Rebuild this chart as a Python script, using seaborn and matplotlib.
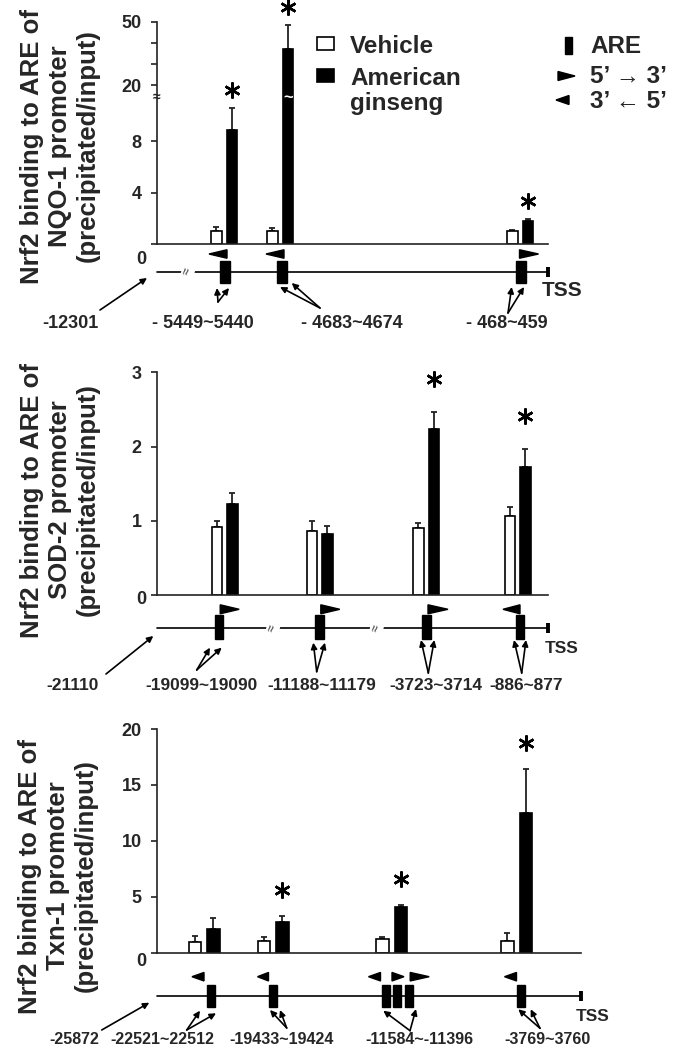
import numpy as np
import pandas as pd
import matplotlib
matplotlib.use('Agg')
import matplotlib.pyplot as plt
from matplotlib.patches import Rectangle, Polygon
from matplotlib.transforms import offset_copy
import seaborn as sns

# ---- values ----
treatments = ['Vehicle', 'American ginseng']

nqo_sites = ['- 5449~5440', '- 4683~4674', '- 468~459']
nqo_vehicle = [1.03, 1.03, 1.01]
nqo_vehicle_sem = [0.32, 0.24, 0.05]
nqo_ginseng = [8.86, 37.1, 1.79]
nqo_ginseng_sem = [1.74, 11.3, 0.15]
nqo_star = [True, True, True]

sod_sites = ['-19099~19090', '-11188~11179', '-3723~3714', '-886~877']
sod_vehicle = [0.92, 0.865, 0.90, 1.07]
sod_vehicle_sem = [0.08, 0.135, 0.07, 0.11]
sod_ginseng = [1.22, 0.82, 2.23, 1.73]
sod_ginseng_sem = [0.16, 0.11, 0.24, 0.24]
sod_star = [False, False, True, True]

txn_sites = ['-22521~22512', '-19433~19424', '-11584~-11396', '-3769~3760']
txn_vehicle = [0.93, 1.02, 1.22, 1.02]
txn_vehicle_sem = [0.56, 0.36, 0.21, 0.71]
txn_ginseng = [2.09, 2.75, 4.06, 12.5]
txn_ginseng_sem = [1.01, 0.55, 0.24, 3.9]
txn_star = [False, True, True, True]

genes = ['NQO-1', 'SOD-2', 'Txn-1']
start_sites = ['-12301', '-21110', '-25872']

# ---- layout (pixels of the 679x1050 figure) ----
FW, FH = 679, 1050
AX_LEFT = 157
DIAG_H = 100
B = 'bold'

layouts = [
    dict(w=391, top=21.7, y0=244, groups=[67, 123, 363], pair=26, bw=10.5, star_off=18,
         zero_off=13, ylab=(60, 146),
         line_y=27.7, box_top=17, box_h=22, box_w=9.3, boxes=[68, 125, 364],
         tris=[(61, 'L', 18), (118, 'L', 18), (372, 'R', 19)], tri_y=10, tri_h=8.5,
         breaks=[31], tss=(405.5, 46, 15), label_y=79, label_size=13,
         start=(-87, (-57, 66), (-10, 34)), site_x=[46, 195, 350],
         site_arrows=[((61, 58), [(60, 44), (72, 44)]),
                      ((163, 64), [(123, 43), (134.7, 39)]),
                      ((351, 69), [(354.7, 43), (367, 43)])]),
    dict(w=391, top=372.3, y0=595, groups=[67.5, 162.5, 269, 360.5], pair=26, bw=10.5, star_off=33,
         zero_off=2, ylab=(60, 500),
         line_y=33.3, box_top=20, box_h=24.3, box_w=8.5, boxes=[62, 162.5, 269.7, 363],
         tris=[(72.7, 'R', 19), (173.3, 'R', 19), (281, 'R', 20), (354.5, 'L', 17)], tri_y=14.3, tri_h=9,
         breaks=[116, 219.7], tss=(404.7, 53.3, 12.5), label_y=90, label_size=12.5,
         start=(-84.5, (-51, 79), (-3.7, 41)), site_x=[45, 164.7, 278.8, 368.8],
         site_arrows=[((39.7, 75), [(53, 52.7), (64.7, 52.7)]),
                      ((159.7, 76.7), [(156.3, 47.7), (168, 47.7)]),
                      ((271.3, 78), [(264, 45), (277.3, 45)]),
                      ((364.7, 78), [(357, 45), (369, 45)])]),
    dict(w=424, top=729, y0=952.7, groups=[47, 116, 234.5, 359.7], pair=31, bw=12.5, star_off=26,
         zero_off=7, ylab=(58, 876),
         line_y=43.3, box_top=32.3, box_h=22.3, box_w=8, boxes=[53.5, 116, 228.5, 239.7, 251.5, 364],
         tris=[(41, 'L', 12), (106, 'L', 11), (217.5, 'L', 12), (241, 'R', 12), (262.7, 'R', 19), (353.5, 'L', 12)],
         tri_y=24, tri_h=8.5,
         breaks=[], tss=(436, 64, 12.5), label_y=87.3, label_size=11.5,
         start=(-83, (-55.3, 77.3), (-7.7, 50)), site_x=[5, 125, 262, 390.5],
         site_arrows=[((29.7, 77.3), [(43, 58), (59, 60.6)]),
                      ((129.7, 75.3), [(113, 57.3), (123, 57.3)]),
                      ((253, 78), [(226.3, 58), (259, 56.3)]),
                      ((383, 75.6), [(361.3, 56.6), (373.7, 56.6)])]),
]

sns.set_theme(style='ticks')
plt.rcParams['font.family'] = ['Liberation Sans', 'DejaVu Sans']
plt.rcParams['font.weight'] = 'bold'

fig = plt.figure(figsize=(FW / 100, FH / 100), dpi=100)

# broken y axis of the NQO-1 panel (piecewise linear)
brk_v = np.array([0, 11.5, 20, 50])
brk_h = np.array([0, 148, 159, 222.3])


def fwd(v):
    v = np.asarray(v, float)
    return np.interp(v, brk_v, brk_h) + np.where(v > 50, (v - 50) * 2.11, 0) + np.where(v < 0, v * 12.87, 0)


def inv(h):
    h = np.asarray(h, float)
    return np.interp(h, brk_h, brk_v) + np.where(h > 222.3, (h - 222.3) / 2.11, 0) + np.where(h < 0, h / 12.87, 0)


panels = [
    (nqo_vehicle, nqo_vehicle_sem, nqo_ginseng, nqo_ginseng_sem, nqo_star, nqo_sites),
    (sod_vehicle, sod_vehicle_sem, sod_ginseng, sod_ginseng_sem, sod_star, sod_sites),
    (txn_vehicle, txn_vehicle_sem, txn_ginseng, txn_ginseng_sem, txn_star, txn_sites),
]
ylims = [(0, 50), (0, 3), (0, 20)]
yticks = [[0, 4, 8, 20, 30, 40, 50], [0, 1, 2, 3], [0, 5, 10, 15, 20]]
yticklabels = [['', '4', '8', '20', '', '', '50'], ['', '1', '2', '3'], ['', '5', '10', '15', '20']]

for i, (veh, veh_sem, gin, gin_sem, stars, sites) in enumerate(panels):
    L = layouts[i]
    n = len(veh)
    ax = fig.add_axes([AX_LEFT / FW, 1 - L['y0'] / FH, L['w'] / FW, (L['y0'] - L['top']) / FH])

    df = pd.DataFrame({
        'pos': [float(p) for p in L['groups']] * 2,
        'treatment': [treatments[0]] * n + [treatments[1]] * n,
        'value': list(veh) + list(gin),
    })
    c = (L['pair'] - L['bw']) / 2
    d = np.diff(sorted(L['groups'])).min()
    sns.barplot(data=df, x='pos', y='value', hue='treatment', hue_order=treatments,
                palette={treatments[0]: 'white', treatments[1]: 'black'}, saturation=1,
                native_scale=True, width=4 * c / d, gap=1 - L['bw'] / (2 * c),
                errorbar=None, edgecolor='black', linewidth=1.2, legend=False, ax=ax)

    if i == 0:
        ax.set_yscale('function', functions=(fwd, inv))
    ax.set_xlim(0, L['w'])
    ax.set_ylim(*ylims[i])
    ax.set_xlabel('')
    ax.set_ylabel('')
    ax.set_xticks([])
    ax.set_yticks(yticks[i])
    ax.set_yticks([], minor=True)
    ax.set_yticklabels(yticklabels[i], fontweight=B, fontsize=13)
    ax.tick_params(axis='y', direction='out', length=4, width=1.2, pad=7, color='#222222')
    for s in ['top', 'right']:
        ax.spines[s].set_visible(False)
    for s in ['left', 'bottom']:
        ax.spines[s].set_linewidth(1.2)
        ax.spines[s].set_color('#222222')
    ax.annotate('0', xy=(0, 0), xycoords=('axes fraction', 'data'), xytext=(-11, -L['zero_off']),
                textcoords='offset pixels', ha='right', va='center_baseline', fontsize=13,
                fontweight=B, annotation_clip=False)

    # one-sided error bars and significance marks
    for cont, sems in zip(ax.containers, (veh_sem, gin_sem)):
        xs = [b.get_x() + b.get_width() / 2 for b in cont]
        ys = [b.get_height() for b in cont]
        ax.errorbar(xs, ys, yerr=[np.zeros(len(sems)), sems], fmt='none', ecolor='#222222',
                    elinewidth=1.3, capsize=2.5, capthick=1.3, zorder=0.9, clip_on=False)
    gcont = ax.containers[1]
    star_tr = offset_copy(ax.transData, fig=fig, y=L['star_off'], units='dots')
    for b, s, e in zip(gcont, stars, gin_sem):
        if s:
            ax.plot([b.get_x() + b.get_width() / 2], [b.get_height() + e], marker=(6, 2, 0),
                    ms=11.5, mew=1.8, color='black', transform=star_tr, clip_on=False)

    if i == 0:
        brk = 11.4
        big = gcont[1]
        ax.text(big.get_x() + big.get_width() / 2, brk, '~', color='white', fontsize=12,
                ha='center', va='center', fontweight=B)
        ax.text(0, brk, '≈', transform=ax.get_yaxis_transform(), fontsize=10,
                ha='center', va='center', color='#222222')

    # promoter diagram underneath
    dg = fig.add_axes([AX_LEFT / FW, 1 - (L['y0'] + DIAG_H) / FH, L['w'] / FW, DIAG_H / FH])
    dg.set_xlim(0, L['w'])
    dg.set_ylim(DIAG_H, 0)
    dg.axis('off')
    ly = L['line_y']
    dg.plot([0, L['w']], [ly, ly], color='black', lw=1.2, clip_on=False)
    dg.plot([L['w'], L['w']], [ly - 5, ly + 5], color='black', lw=2.8, solid_capstyle='butt', clip_on=False)
    for bx in L['breaks']:
        dg.text(bx, ly, '≈', rotation=75, fontsize=9, ha='center', va='center',
                fontweight='normal', bbox=dict(boxstyle='square,pad=0.05', fc='white', ec='none'))
    for bx in L['boxes']:
        dg.add_patch(Rectangle((bx - L['box_w'] / 2, L['box_top']), L['box_w'], L['box_h'],
                               color='black', clip_on=False))
    ty, th = L['tri_y'], L['tri_h']
    for tx, dirn, tl in L['tris']:
        if dirn == 'L':
            pts = [(tx - tl / 2, ty), (tx + tl / 2, ty - th / 2), (tx + tl / 2, ty + th / 2)]
        else:
            pts = [(tx + tl / 2, ty), (tx - tl / 2, ty - th / 2), (tx - tl / 2, ty + th / 2)]
        dg.add_patch(Polygon(pts, closed=True, color='black', clip_on=False))
    tx_, ty_, ts_ = L['tss']
    dg.text(tx_, ty_, 'TSS', fontsize=ts_, fontweight=B, ha='center', va='center')

    arrow_kw = dict(arrowstyle='-|>', lw=1.2, color='black', mutation_scale=9, shrinkA=0, shrinkB=0)
    sx, s_from, s_to = L['start']
    dg.text(sx, L['label_y'], start_sites[i], fontsize=L['label_size'], fontweight=B,
            ha='center', va='center')
    dg.annotate('', xy=s_to, xytext=s_from, arrowprops=arrow_kw, annotation_clip=False)
    for lab, lx, (a_from, heads) in zip(sites, L['site_x'], L['site_arrows']):
        dg.text(lx, L['label_y'], lab, fontsize=L['label_size'], fontweight=B, ha='center', va='center')
        for h in heads:
            dg.annotate('', xy=h, xytext=a_from, arrowprops=arrow_kw, annotation_clip=False)

    fig.text(L['ylab'][0] / FW, 1 - L['ylab'][1] / FH,
             f'Nrf2 binding to ARE of\n{genes[i]} promoter\n(precipitated/input)',
             rotation=90, ha='center', va='center', multialignment='center',
             fontsize=18.5, fontweight=B)

# legends (figure pixel overlay)
ov = fig.add_axes([0, 0, 1, 1])
ov.set_xlim(0, FW)
ov.set_ylim(FH, 0)
ov.axis('off')
ov.add_patch(Rectangle((317, 37), 16.5, 13.3, fc='white', ec='black', lw=1.2))
ov.add_patch(Rectangle((317, 68.5), 16.5, 13.3, fc='black', ec='black', lw=1.2))
ov.text(350, 53.3, 'Vehicle', fontsize=17.5, fontweight=B, va='baseline')
ov.text(350, 85, 'American', fontsize=17.5, fontweight=B, va='baseline')
ov.text(350, 110, 'ginseng', fontsize=17.5, fontweight=B, va='baseline')
ov.add_patch(Rectangle((564.5, 36.7), 7.2, 17.3, color='black'))
ov.add_patch(Polygon([(558, 71.5), (558, 80.5), (575, 76)], closed=True, color='black'))
ov.add_patch(Polygon([(569, 95.5), (569, 104.5), (556, 100)], closed=True, color='black'))
ov.text(590, 53.3, 'ARE', fontsize=17.5, fontweight=B, va='baseline')
ov.text(590, 83.3, '5’ → 3’', fontsize=17.5, fontweight=B, va='baseline')
ov.text(590, 108, '3’ ← 5’', fontsize=17.5, fontweight=B, va='baseline')

fig.savefig('out.png', dpi=100)
